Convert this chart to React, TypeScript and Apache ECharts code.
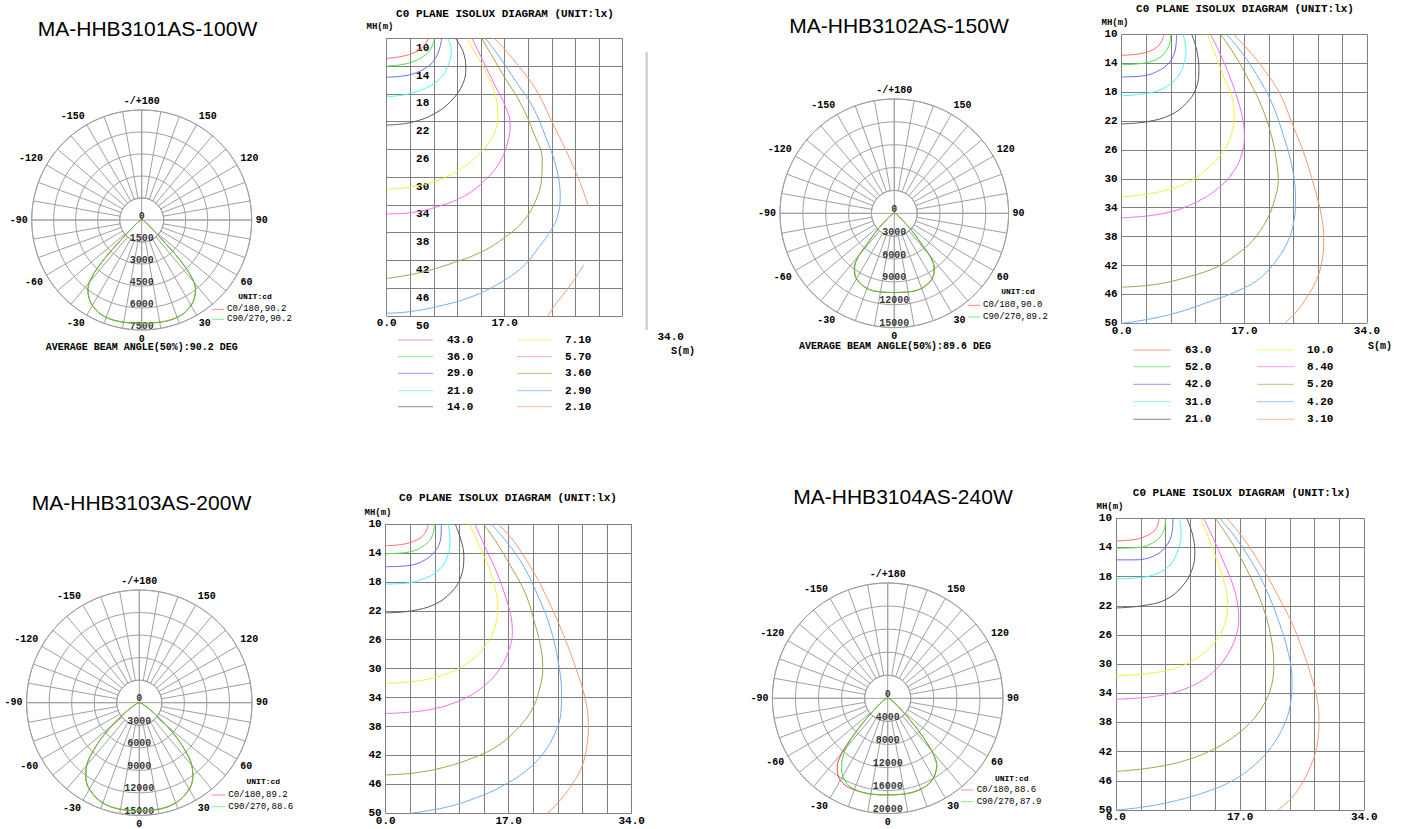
import React, { useEffect, useRef } from "react";
import * as echarts from "echarts";

// ---------------- DATA ----------------
const TITLES = ["MA-HHB3101AS-100W", "MA-HHB3102AS-150W", "MA-HHB3103AS-200W", "MA-HHB3104AS-240W"];
const POLAR_MAX = [7500, 15000, 15000, 20000];
const POLAR_STEP = [1500, 3000, 3000, 4000];
const RADIAL_TICKS = [
  [0, 1500, 3000, 4500, 6000, 7500],
  [0, 3000, 6000, 9000, 12000, 15000],
  [0, 3000, 6000, 9000, 12000, 15000],
  [0, 4000, 8000, 12000, 16000, 20000],
];
const C0_LEGEND = ["C0/180,90.2", "C0/180,90.0", "C0/180,89.2", "C0/180,88.6"];
const C90_LEGEND = ["C90/270,90.2", "C90/270,89.2", "C90/270,88.6", "C90/270,87.9"];
const BEAM_TEXT = ["AVERAGE BEAM ANGLE(50%):90.2 DEG", "AVERAGE BEAM ANGLE(50%):89.6 DEG"];

// angles from nadir (deg)
const ANGLES = [0, 5, 10, 15, 20, 25, 30, 33, 36, 38, 40, 42, 44, 46, 48, 50, 52, 55, 60, 70, 80, 90];
const L1_C0 = [7050, 7060, 7080, 7100, 7070, 6960, 6730, 6520, 6220, 5960, 5560, 4820, 3620, 2000, 1300, 850, 650, 450, 300, 150, 60, 0];
const L1_C90 = [7040, 7050, 7070, 7090, 7060, 6950, 6720, 6500, 6200, 5940, 5520, 4780, 3580, 1950, 1280, 840, 640, 440, 300, 150, 60, 0];
const L2_C0 = [10400, 10420, 10480, 10550, 10500, 10300, 9950, 9550, 8950, 8350, 7250, 5100, 3900, 2900, 2000, 1400, 1100, 800, 500, 250, 100, 0];
const L2_C90 = [10380, 10400, 10460, 10520, 10470, 10260, 9900, 9480, 8850, 8250, 7150, 5000, 3850, 2850, 1950, 1380, 1080, 780, 500, 250, 100, 0];
const L3_C0 = [14380, 14400, 14420, 14380, 14200, 13850, 13300, 12850, 12150, 11550, 10900, 10000, 8700, 7500, 6100, 4700, 3600, 2300, 1100, 400, 150, 0];
const L3_C90 = [14350, 14370, 14390, 14350, 14170, 13820, 13260, 12800, 12100, 11500, 10850, 9950, 8650, 7450, 6050, 4650, 3550, 2250, 1080, 400, 150, 0];
const L4_C0_LEFT = [16760, 16800, 16850, 16900, 16900, 16850, 16450, 15850, 14900, 14000, 12300, 9900, 7400, 5400, 3950, 2950, 2300, 1700, 1000, 450, 180, 0];
const L4_C0_RIGHT = [16740, 16780, 16830, 16860, 16780, 16530, 15920, 15280, 14480, 13480, 11780, 9580, 7280, 5280, 3880, 2880, 2250, 1680, 1000, 450, 180, 0];
const L4_C90_LEFT = [16760, 16800, 16850, 16880, 16800, 16500, 15600, 14700, 13500, 12500, 11200, 9400, 7200, 5300, 3900, 2900, 2250, 1700, 1000, 450, 180, 0];
const L4_C90_RIGHT = [16760, 16800, 16850, 16880, 16800, 16550, 15950, 15300, 14500, 13500, 11800, 9600, 7300, 5300, 3900, 2900, 2250, 1700, 1000, 450, 180, 0];

const LAMP_CURVES = [
  { c0L: L1_C0, c0R: L1_C0, c90L: L1_C90, c90R: L1_C90 },
  { c0L: L2_C0, c0R: L2_C0, c90L: L2_C90, c90R: L2_C90 },
  { c0L: L3_C0, c0R: L3_C0, c90L: L3_C90, c90R: L3_C90 },
  { c0L: L4_C0_LEFT, c0R: L4_C0_RIGHT, c90L: L4_C90_LEFT, c90R: L4_C90_RIGHT },
];

// isolux levels (lx)
const LEVELS_A = ["43.0", "36.0", "29.0", "21.0", "14.0", "7.10", "5.70", "3.60", "2.90", "2.10"];
const LEVELS_B = ["63.0", "52.0", "42.0", "31.0", "21.0", "10.0", "8.40", "5.20", "4.20", "3.10"];
const X_TICK_LABELS = [0, 17, 34];

// isolux curves: [S (m), MH (m)]
const ISO_A = [
  [[6.0, 10], [5.3, 11.2], [4.1, 12.0], [2.2, 12.6], [0, 12.9]],
  [[6.9, 10], [6.4, 11.4], [5.3, 12.6], [3.1, 13.6], [0, 14.0]],
  [[7.9, 10], [7.7, 11.2], [7.0, 12.9], [5.6, 14.3], [3.1, 15.3], [0, 15.6]],
  [[8.8, 10], [9.3, 11.7], [8.9, 13.8], [7.7, 15.8], [5.6, 17.2], [2.7, 18.1], [0, 18.4]],
  [[9.9, 10], [11.0, 11.9], [11.4, 14.3], [11.0, 16.5], [9.4, 18.9], [7.0, 20.8], [3.6, 22.1], [0, 22.5]],
  [[11.6, 10], [12.8, 12.2], [14.5, 15.3], [15.7, 18.4], [16.0, 21.0], [15.5, 23.7], [13.8, 26.1], [10.9, 28.7], [7.5, 30.4], [3.6, 31.4], [0, 31.7]],
  [[12.3, 10], [13.8, 13.1], [15.7, 17.0], [17.1, 19.8], [17.8, 22.5], [17.4, 25.1], [16.2, 28.0], [14.2, 30.4], [11.4, 32.6], [7.5, 34.2], [3.6, 35.1], [0, 35.3]],
  [[13.7, 10], [15.2, 12.6], [17.1, 15.8], [19.3, 19.4], [21.2, 23.7], [22.4, 27.5], [22.3, 30.4], [21.5, 33.3], [19.8, 36.2], [17.1, 38.6], [13.8, 40.7], [9.4, 42.4], [4.6, 43.8], [0, 44.6]],
  [[14.2, 10], [16.2, 12.6], [18.6, 16.2], [21.0, 19.8], [22.9, 24.2], [24.4, 28.5], [25.0, 32.8], [24.6, 35.7], [23.7, 37.6], [22.0, 40.0], [19.6, 42.9], [16.2, 45.3], [12.3, 47.2], [7.5, 48.6], [3.1, 49.4], [0, 49.6]],
  [[15.5, 10], [17.1, 11.7], [19.1, 14.1], [21.5, 17.4], [23.9, 22.2], [25.8, 26.1], [27.5, 29.9], [29.1, 34.2]],
];
const ISO_A_EXTRA = [
  [[36.1, 36.2], [36.5, 39.8], [36.1, 42.4], [35.3, 44.6]],
  [[28.4, 42.6], [26.3, 45.8], [24.4, 48.2], [23.2, 50]],
];
const ISO_B = [
  [[5.9, 10], [5.4, 11.2], [4.4, 12.1], [2.5, 12.7], [0, 12.9]],
  [[6.8, 10], [6.5, 11.7], [5.3, 13.2], [3.0, 14.0], [0, 14.2]],
  [[7.6, 10], [7.5, 11.7], [6.7, 13.8], [4.8, 15.2], [2.5, 15.8], [0, 15.9]],
  [[8.5, 10], [8.9, 12.2], [8.5, 14.5], [7.4, 16.3], [5.3, 17.7], [2.5, 18.3], [0, 18.5]],
  [[9.7, 10], [10.4, 12.2], [10.7, 14.9], [10.3, 17.5], [9.0, 19.5], [6.7, 21.2], [3.5, 22.1], [0, 22.4]],
  [[11.9, 10], [12.9, 12.6], [14.3, 16.3], [15.4, 19.1], [15.6, 21.4], [15.2, 23.9], [14.1, 26.2], [12.0, 28.5], [9.0, 30.6], [4.8, 31.9], [0, 32.5]],
  [[12.3, 10], [13.6, 12.6], [15.0, 15.9], [16.1, 19.1], [16.8, 21.9], [17.0, 24.2], [16.6, 26.7], [15.5, 29.0], [13.6, 31.1], [10.4, 33.2], [5.8, 34.8], [0, 35.4]],
  [[13.7, 10], [15.5, 12.6], [17.5, 16.1], [19.4, 20.0], [20.8, 24.2], [21.5, 27.9], [21.7, 30.2], [21.2, 32.9], [20.1, 35.7], [18.2, 38.5], [15.9, 40.5], [13.2, 42.2], [9.5, 43.5], [4.8, 44.6], [0, 45.0]],
  [[14.5, 10], [16.4, 12.2], [18.7, 15.6], [20.8, 19.5], [22.6, 24.6], [23.7, 28.8], [24.1, 32.9], [23.9, 35.7], [23.1, 38.5], [21.5, 41.2], [19.1, 43.8], [15.9, 45.6], [12.2, 47.0], [8.1, 48.4], [3.9, 49.4], [0, 50]],
  [[15.5, 10], [17.3, 11.9], [19.6, 14.7], [21.9, 18.2], [23.8, 22.8], [25.4, 26.9], [26.8, 31.5], [27.7, 35.2], [28.0, 38.2], [27.8, 41.2], [27.0, 44.0], [25.6, 46.5], [24.2, 48.4], [22.6, 50]],
];
const ISO_C = [
  [[5.9, 10], [5.4, 11.3], [4.3, 12.2], [2.4, 12.8], [0, 13.0]],
  [[6.7, 10], [6.5, 11.5], [5.4, 12.9], [3.1, 13.9], [0, 14.1]],
  [[7.7, 10], [7.6, 12.0], [6.8, 13.8], [5.0, 15.2], [2.7, 15.8], [0, 15.9]],
  [[8.6, 10], [8.9, 12.0], [8.6, 14.3], [7.3, 16.4], [5.2, 17.6], [2.7, 18.2], [0, 18.3]],
  [[9.6, 10], [10.4, 12.2], [10.8, 14.5], [10.4, 17.3], [9.1, 19.4], [6.8, 21.1], [3.6, 22.0], [0, 22.3]],
  [[11.6, 10], [12.8, 12.7], [14.2, 15.9], [15.1, 18.7], [15.5, 21.7], [15.1, 24.2], [14.0, 26.5], [11.9, 28.8], [8.7, 30.6], [4.5, 31.7], [0, 32.0]],
  [[12.3, 10], [13.7, 13.1], [15.4, 16.8], [16.7, 20.5], [17.4, 23.3], [17.5, 25.1], [17.1, 27.2], [15.8, 30.0], [13.7, 32.3], [10.5, 34.3], [5.9, 35.7], [0, 36.2]],
  [[13.5, 10], [15.1, 12.2], [17.2, 15.7], [19.3, 19.6], [20.6, 23.7], [21.5, 27.4], [21.7, 30.0], [21.3, 32.7], [20.2, 35.7], [18.3, 38.2], [15.6, 40.6], [12.4, 42.2], [8.2, 43.6], [4.1, 44.4], [0, 44.7]],
  [[14.6, 10], [16.5, 12.2], [18.8, 15.4], [20.9, 19.6], [22.7, 24.2], [23.8, 28.8], [24.3, 33.4], [24.2, 36.2], [23.4, 38.9], [21.8, 41.7], [19.3, 44.2], [16.0, 46.3], [12.4, 47.9], [8.2, 49.2], [3.4, 50]],
  [[15.5, 10], [17.4, 12.0], [19.7, 15.4], [22.0, 19.6], [24.3, 24.7], [26.2, 29.7], [27.6, 34.3], [28.0, 38.0], [27.8, 40.8], [27.1, 43.6], [25.7, 46.1], [24.1, 48.2], [22.4, 50]],
];
const ISO_D = [
  [[5.9, 10], [5.5, 11.4], [4.4, 12.3], [2.6, 12.9], [0, 13.1]],
  [[6.8, 10], [6.5, 11.8], [5.3, 13.2], [3.1, 14.0], [0, 14.1]],
  [[7.8, 10], [7.7, 11.8], [6.8, 13.9], [5.1, 15.2], [2.6, 15.7], [0, 15.7]],
  [[8.7, 10], [8.9, 12.1], [8.5, 14.3], [7.4, 16.4], [5.3, 17.7], [2.6, 18.2], [0, 18.3]],
  [[9.7, 10], [10.5, 12.3], [10.8, 14.6], [10.4, 17.1], [9.0, 19.4], [6.7, 21.2], [3.5, 22.0], [0, 22.3]],
  [[11.6, 10], [12.6, 12.5], [13.8, 15.7], [14.8, 18.7], [15.3, 21.7], [14.9, 24.4], [13.6, 26.9], [11.3, 29.0], [8.3, 30.5], [4.2, 31.3], [0, 31.6]],
  [[12.0, 10], [13.3, 12.7], [14.7, 15.9], [16.1, 19.4], [16.7, 22.1], [16.8, 23.9], [16.4, 26.2], [15.4, 28.5], [13.6, 30.8], [10.6, 32.9], [6.0, 34.3], [0, 34.8]],
  [[13.6, 10], [15.2, 12.3], [17.0, 15.3], [18.8, 18.9], [20.4, 23.0], [21.3, 26.7], [21.6, 30.1], [21.3, 32.9], [20.2, 35.6], [18.3, 38.1], [15.8, 40.2], [12.9, 41.9], [8.8, 43.4], [4.2, 44.3], [0, 44.7]],
  [[14.2, 10], [16.1, 12.3], [18.3, 15.5], [20.4, 19.4], [22.2, 23.9], [23.6, 28.5], [24.1, 32.2], [23.9, 35.4], [22.9, 38.6], [21.3, 41.3], [19.0, 43.8], [16.1, 45.9], [12.4, 47.5], [8.3, 48.7], [3.7, 49.6], [0, 50]],
  [[15.2, 10], [17.4, 12.7], [19.7, 16.2], [22.0, 20.3], [24.1, 24.4], [25.7, 28.5], [27.0, 32.6], [27.7, 35.8], [27.8, 37.7], [27.5, 41.3], [26.6, 44.1], [25.2, 46.8], [23.8, 48.6], [22.2, 50]],
];

// ---------------- STYLE / LAYOUT ----------------
const MONO = "'Liberation Mono', 'DejaVu Sans Mono', monospace";
const SANS = "'Liberation Sans', Arial, sans-serif";
const ISO_COLORS = ["#ff6b6b", "#4ee04e", "#6b6bff", "#4df5f5", "#5a5a5a", "#f2f23c", "#f56bf5", "#a3a34a", "#6fb0f5", "#f59a73"];
const LEGEND_COLORS = ["#ff9a9a", "#8ae88a", "#9a9aff", "#8af5f5", "#8a8a8a", "#f5f57a", "#f59af5", "#c0c080", "#9ac8f5", "#f5bca0"];
const POLAR_GRID = "#a0a0a0";
const ISO_GRID = "#808080";

const POLAR_LAYOUT = [
  { cx: 141.7, cy: 220, r: 110 },
  { cx: 894.3, cy: 213.3, r: 114.3 },
  { cx: 139.3, cy: 702.7, r: 112.7 },
  { cx: 887.7, cy: 698.3, r: 115.3 },
];
const POLAR_LEG = [
  { ux: 255, uy: 296, lx1: 212, lx2: 224, y1: 309.3, y2: 319.3, tx: 227 },
  { ux: 1018, uy: 291.7, lx1: 968, lx2: 980, y1: 305.3, y2: 317, tx: 983 },
  { ux: 263.3, uy: 781.7, lx1: 212, lx2: 225, y1: 795, y2: 806.7, tx: 228.3 },
  { ux: 1011.7, uy: 778.3, lx1: 961, lx2: 973, y1: 790, y2: 801.7, tx: 976.7 },
];
const BEAM_POS = [
  { x: 141.7, y: 347 },
  { x: 895, y: 346 },
];
const TITLE_POS = [
  { x: 147.5, y: 28 },
  { x: 899, y: 25 },
  { x: 141.5, y: 502 },
  { x: 903, y: 496 },
];
const ISO_LAYOUT = [
  { left: 386.7, top: 38.3, width: 236, height: 277.7, tx: 505, ty: 14, mhx: 380, mhy: 26.7 },
  { left: 1121.7, top: 34.3, width: 245.3, height: 289, tx: 1245, ty: 9.3, mhx: 1115, mhy: 22.7 },
  { left: 385.7, top: 524, width: 246, height: 289.3, tx: 508, ty: 498, mhx: 378, mhy: 513 },
  { left: 1116, top: 518.3, width: 248.3, height: 291.7, tx: 1241.7, ty: 493.3, mhx: 1110, mhy: 506.7 },
];
const ISO_LEGEND_POS = [
  { l1: 398, l2: 433, t1: 447, r1: 517, r2: 552, t2: 565, rows: [340, 356.7, 373.3, 390.7, 406.7] },
  { l1: 1133, l2: 1171, t1: 1185, r1: 1257, r2: 1294, t2: 1307, rows: [350, 366.7, 384.3, 401.7, 419.3] },
];

function polarCurve(left: number[], right: number[]) {
  const pts: number[][] = [];
  for (let k = ANGLES.length - 1; k >= 1; k--) pts.push([left[k], -ANGLES[k]]);
  for (let k = 0; k < ANGLES.length; k++) pts.push([right[k], ANGLES[k]]);
  return pts;
}

function txt(x: number, y: number, text: string, font: string, align = "center", fill = "#000") {
  return {
    type: "text",
    x,
    y,
    silent: true,
    style: { text, x: 0, y: 0, font, fill, align, verticalAlign: "middle" },
  };
}
function ln(x1: number, y1: number, x2: number, y2: number, stroke: string, lineWidth = 1) {
  return { type: "line", silent: true, shape: { x1, y1, x2, y2 }, style: { stroke, lineWidth } };
}

function buildOption() {
  const polar: any[] = [];
  const angleAxis: any[] = [];
  const radiusAxis: any[] = [];
  const grid: any[] = [];
  const xAxis: any[] = [];
  const yAxis: any[] = [];
  const series: any[] = [];
  const graphic: any[] = [];

  const smallFont = { color: "#000", fontSize: 10, fontFamily: MONO, fontWeight: "bold" as const };

  // ---- polar diagrams ----
  POLAR_LAYOUT.forEach((p, i) => {
    const max = POLAR_MAX[i];
    const step = POLAR_STEP[i];
    const r0 = (p.r * step) / max;
    polar.push({ center: [p.cx, p.cy], radius: [r0, p.r] });
    polar.push({ center: [p.cx, p.cy], radius: p.r });
    angleAxis.push({
      polarIndex: 2 * i,
      type: "value",
      min: -180,
      max: 180,
      interval: 10,
      startAngle: 90,
      clockwise: false,
      axisLine: { show: true, lineStyle: { color: POLAR_GRID, width: 1 } },
      axisTick: { show: false },
      splitLine: { show: true, lineStyle: { color: POLAR_GRID, width: 1 } },
      axisLabel: {
        show: true,
        margin: 4,
        ...smallFont,
        formatter: (v: number) => {
          const a = Math.round(v);
          if (a === -180) return "-/+180";
          if (a === 180) return "";
          return a % 30 === 0 ? String(a) : "";
        },
      },
    });
    angleAxis.push({
      polarIndex: 2 * i + 1,
      type: "value",
      min: -180,
      max: 180,
      interval: 90,
      startAngle: 90,
      clockwise: false,
      axisLine: { show: false },
      axisTick: { show: false },
      axisLabel: { show: false },
      splitLine: { show: true, lineStyle: { color: POLAR_GRID, width: 1 } },
    });
    radiusAxis.push({
      polarIndex: 2 * i,
      type: "value",
      min: step,
      max,
      interval: step,
      axisLine: { show: false },
      axisTick: { show: false },
      axisLabel: { show: false },
      splitLine: { show: true, lineStyle: { color: POLAR_GRID, width: 1 } },
    });
    radiusAxis.push({
      polarIndex: 2 * i + 1,
      type: "value",
      min: 0,
      max,
      axisLine: { show: false },
      axisTick: { show: false },
      axisLabel: { show: false },
      splitLine: { show: false },
    });
    const c = LAMP_CURVES[i];
    series.push({
      name: TITLES[i] + " " + C0_LEGEND[i],
      type: "line",
      coordinateSystem: "polar",
      polarIndex: 2 * i + 1,
      data: polarCurve(c.c0L, c.c0R),
      showSymbol: false,
      smooth: 0.25,
      silent: true,
      lineStyle: { color: "#f03c3c", width: 1 },
    });
    series.push({
      name: TITLES[i] + " " + C90_LEGEND[i],
      type: "line",
      coordinateSystem: "polar",
      polarIndex: 2 * i + 1,
      data: polarCurve(c.c90L, c.c90R),
      showSymbol: false,
      smooth: 0.25,
      silent: true,
      lineStyle: { color: "#3cd83c", width: 1 },
    });
    series.push({
      name: TITLES[i] + " ticks",
      type: "scatter",
      coordinateSystem: "polar",
      polarIndex: 2 * i + 1,
      data: RADIAL_TICKS[i].map((v) => [v, 0]),
      symbolSize: 1,
      silent: true,
      itemStyle: { color: "rgba(0,0,0,0)" },
      label: {
        show: true,
        position: "inside",
        offset: [0, -4],
        ...smallFont,
        formatter: (pp: any) => String(pp.value[0]),
      },
    });

    const lg = POLAR_LEG[i];
    graphic.push(txt(lg.ux, lg.uy, "UNIT:cd", `bold 8px ${MONO}`));
    graphic.push(ln(lg.lx1, lg.y1, lg.lx2, lg.y1, "#ff8a8a"));
    graphic.push(ln(lg.lx1, lg.y2, lg.lx2, lg.y2, "#7ef07e"));
    graphic.push(txt(lg.tx, lg.y1, C0_LEGEND[i], `9px ${MONO}`, "left"));
    graphic.push(txt(lg.tx, lg.y2, C90_LEGEND[i], `9px ${MONO}`, "left"));
    graphic.push(txt(TITLE_POS[i].x, TITLE_POS[i].y, TITLES[i], `21px ${SANS}`));
  });
  BEAM_TEXT.forEach((t, i) => graphic.push(txt(BEAM_POS[i].x, BEAM_POS[i].y, t, `bold 10px ${MONO}`)));

  // ---- isolux diagrams ----
  const ISO_ALL = [ISO_A, ISO_B, ISO_C, ISO_D];
  const isoFont = { color: "#000", fontSize: 11, fontFamily: MONO, fontWeight: "bold" as const };
  ISO_LAYOUT.forEach((g, i) => {
    grid.push({ left: g.left, top: g.top, width: g.width, height: g.height, containLabel: false });
    const xMargin = i === 0 ? 1 : i === 3 ? 1 : 2;
    xAxis.push({
      gridIndex: i,
      type: "value",
      min: 0,
      max: 34,
      interval: 3.4,
      axisLine: { show: false },
      axisTick: { show: false },
      splitLine: { show: true, lineStyle: { color: ISO_GRID, width: 1 } },
      axisLabel: {
        show: true,
        margin: xMargin,
        ...isoFont,
        showMinLabel: true,
        showMaxLabel: true,
        formatter: (v: number) => {
          const r = Math.round(v * 10) / 10;
          if (i === 0 && r === 34) return "";
          return X_TICK_LABELS.indexOf(r) >= 0 ? r.toFixed(1) : "";
        },
      },
    });
    yAxis.push({
      gridIndex: i,
      type: "value",
      inverse: true,
      min: 10,
      max: 50,
      interval: 4,
      axisLine: { show: false },
      axisTick: { show: false },
      splitLine: { show: true, lineStyle: { color: ISO_GRID, width: 1 } },
      axisLabel:
        i === 0
          ? { show: true, ...isoFont, align: "center", margin: -36, verticalAlign: "top", padding: [4, 0, 0, 0], formatter: (v: number) => String(Math.round(v)) }
          : { show: true, ...isoFont, margin: 4, verticalAlign: "middle", padding: [0, 0, 6, 0], formatter: (v: number) => String(Math.round(v)) },
    });
    ISO_ALL[i].forEach((curve, k) => {
      series.push({
        name: `${TITLES[i]} isolux ${k + 1}`,
        type: "line",
        xAxisIndex: i,
        yAxisIndex: i,
        data: curve,
        showSymbol: false,
        smooth: 0.4,
        clip: false,
        silent: true,
        lineStyle: { color: ISO_COLORS[k], width: 1 },
      });
    });
    graphic.push(txt(g.tx, g.ty, "C0 PLANE ISOLUX DIAGRAM (UNIT:lx)", `bold 11px ${MONO}`));
    graphic.push(txt(g.mhx, g.mhy, "MH(m)", `bold 9px ${MONO}`));
  });
  ISO_A_EXTRA.forEach((curve, k) => {
    series.push({
      name: `${TITLES[0]} isolux 10 part ${k + 2}`,
      type: "line",
      xAxisIndex: 0,
      yAxisIndex: 0,
      data: curve,
      showSymbol: false,
      smooth: 0.4,
      clip: false,
      silent: true,
      lineStyle: { color: ISO_COLORS[9], width: 1 },
    });
  });

  // extra labels of diagram A / B
  graphic.push(txt(670.7, 336.7, "34.0", `bold 11px ${MONO}`));
  graphic.push(txt(683, 351.7, "S(m)", `bold 10px ${MONO}`));
  graphic.push(ln(646.7, 51.7, 646.7, 330, "#c8c8c8", 2));
  graphic.push(txt(1380, 346.7, "S(m)", `bold 10px ${MONO}`));

  // isolux legends
  [LEVELS_A, LEVELS_B].forEach((levels, i) => {
    const p = ISO_LEGEND_POS[i];
    levels.forEach((lv, k) => {
      const col = k < 5 ? 0 : 1;
      const row = k % 5;
      const y = p.rows[row];
      if (col === 0) {
        graphic.push(ln(p.l1, y, p.l2, y, LEGEND_COLORS[k]));
        graphic.push(txt(p.t1, y, lv, `bold 11px ${MONO}`, "left"));
      } else {
        graphic.push(ln(p.r1, y, p.r2, y, LEGEND_COLORS[k]));
        graphic.push(txt(p.t2, y, lv, `bold 11px ${MONO}`, "left"));
      }
    });
  });

  return {
    animation: false,
    backgroundColor: "#ffffff",
    textStyle: { fontFamily: MONO },
    polar,
    angleAxis,
    radiusAxis,
    grid,
    xAxis,
    yAxis,
    series,
    graphic,
  };
}

export default function App() {
  const ref = useRef<HTMLDivElement>(null);
  useEffect(() => {
    if (!ref.current) return;
    const chart = echarts.init(ref.current, null, { renderer: "svg" });
    chart.setOption(buildOption() as any);
    return () => chart.dispose();
  }, []);
  return (
    <div
      ref={ref}
      style={{ position: "absolute", left: 0, top: 0, width: 1408, height: 829, background: "#fff" }}
    />
  );
}
